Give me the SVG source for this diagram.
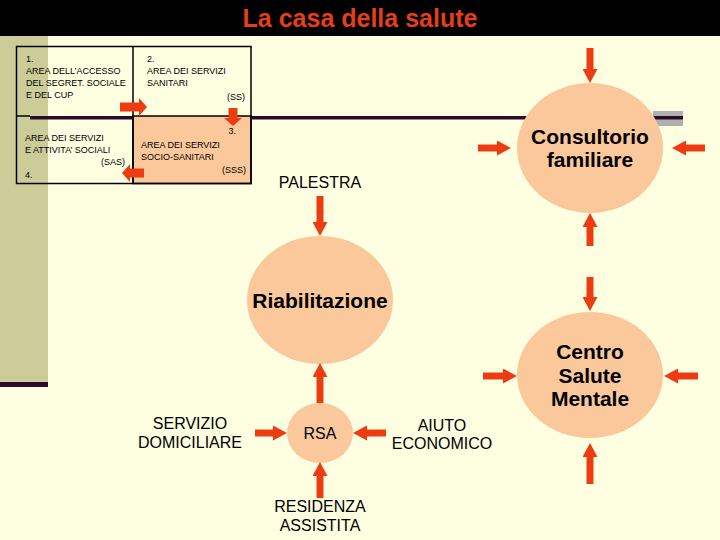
<svg xmlns="http://www.w3.org/2000/svg" width="720" height="540" viewBox="0 0 720 540">
<style>
.small{font-family:"Liberation Sans",Arial,sans-serif;font-size:9px;fill:#000}
.lbl{font-family:"Liberation Sans",Arial,sans-serif;font-size:16px;fill:#000;text-anchor:middle}
.bold{font-family:"Liberation Sans",Arial,sans-serif;font-size:21px;font-weight:bold;fill:#000;text-anchor:middle}
.circ{fill:#FBC89B}
.arr{stroke:#EE3C12;stroke-width:7;fill:none;marker-end:url(#ah)}
.tarr{stroke:#EE3C12;stroke-width:9;fill:none;marker-end:url(#tah)}
.cell{fill:none;stroke:#000;stroke-width:1.5}
</style>
<defs>
<marker id="ah" markerUnits="userSpaceOnUse" markerWidth="14" markerHeight="15" viewBox="0 0 14 15" refX="0" refY="7.5" orient="auto"><path d="M0,0 L14,7.5 L0,15 z" fill="#EE3C12"/></marker>
<marker id="tah" markerUnits="userSpaceOnUse" markerWidth="8" markerHeight="18" viewBox="0 0 8 18" refX="0" refY="9" orient="auto"><path d="M0,0 L8,9 L0,18 z" fill="#EE3C12"/></marker>
</defs>
<rect x="0" y="0" width="720" height="540" fill="#FEFEE1"/>
<rect x="0" y="0" width="720" height="36" fill="#000"/>
<text x="360" y="27" text-anchor="middle" style="font-family:'Liberation Sans',Arial,sans-serif;font-size:25px;font-weight:bold;fill:#E63E1A">La casa della salute</text>
<rect x="0" y="36" width="48" height="346" fill="#CCCC99"/>
<rect x="0" y="382" width="48" height="5" fill="#2B0A2E"/>
<rect x="653" y="111" width="30" height="15" fill="#B0B0B0"/>
<rect x="30" y="116" width="653" height="3.5" fill="#2B0A2E"/>

<g id="table">
<rect x="133" y="116" width="118" height="67.5" fill="#FBC89B" stroke="#000" stroke-width="1.5"/>
<rect class="cell" x="16.5" y="46.5" width="234.5" height="137"/>
<line x1="133" y1="46.5" x2="133" y2="183.5" stroke="#000" stroke-width="1.5"/>
<line x1="16.5" y1="116" x2="30" y2="116" stroke="#000" stroke-width="1.5"/>
<text class="small" x="26" y="62">1.</text>
<text class="small" x="26" y="74">AREA DELL’ACCESSO</text>
<text class="small" x="26" y="86">DEL SEGRET. SOCIALE</text>
<text class="small" x="26" y="98">E DEL CUP</text>
<text class="small" x="147" y="62">2.</text>
<text class="small" x="147" y="74">AREA DEI SERVIZI</text>
<text class="small" x="147" y="86">SANITARI</text>
<text class="small" x="245" y="100" text-anchor="end">(SS)</text>
<text class="small" x="25" y="141">AREA DEI SERVIZI</text>
<text class="small" x="25" y="153">E ATTIVITA’ SOCIALI</text>
<text class="small" x="125" y="165" text-anchor="end">(SAS)</text>
<text class="small" x="25" y="178">4.</text>
<text class="small" x="236" y="134" text-anchor="end">3.</text>
<text class="small" x="141" y="148">AREA DEI SERVIZI</text>
<text class="small" x="141" y="160">SOCIO-SANITARI</text>
<text class="small" x="246" y="173" text-anchor="end">(SSS)</text>
</g>

<g id="consultorio">
<ellipse class="circ" cx="590" cy="148" rx="73" ry="65"/>
<text class="bold" x="590" y="144">Consultorio</text>
<text class="bold" x="590" y="167">familiare</text>
</g>
<g id="palestra">
<text class="lbl" x="320" y="188">PALESTRA</text>
</g>
<g id="riabilitazione">
<ellipse class="circ" cx="320" cy="300" rx="73" ry="64"/>
<text class="bold" x="320" y="308">Riabilitazione</text>
</g>
<g id="centro">
<ellipse class="circ" cx="590" cy="375" rx="73" ry="63"/>
<text class="bold" x="590" y="359">Centro</text>
<text class="bold" x="590" y="383">Salute</text>
<text class="bold" x="590" y="406">Mentale</text>
</g>
<g id="rsa">
<ellipse class="circ" cx="320" cy="433" rx="33" ry="30"/>
<text class="lbl" x="320" y="439">RSA</text>
</g>
<g id="servizio">
<text class="lbl" x="190" y="429">SERVIZIO</text>
<text class="lbl" x="190" y="448">DOMICILIARE</text>
</g>
<g id="aiuto">
<text class="lbl" x="442" y="431">AIUTO</text>
<text class="lbl" x="442" y="449">ECONOMICO</text>
</g>
<g id="residenza">
<text class="lbl" x="320" y="512">RESIDENZA</text>
<text class="lbl" x="320" y="531">ASSISTITA</text>
</g>

<g id="connectors">
<line class="tarr" x1="120" y1="107" x2="139" y2="107"/>
<line class="tarr" x1="233" y1="108" x2="233" y2="118"/>
<line class="tarr" x1="144" y1="173" x2="130" y2="173"/>
<line class="arr" x1="590" y1="48" x2="590" y2="69"/>
<line class="arr" x1="478" y1="148" x2="497" y2="148"/>
<line class="arr" x1="705" y1="148" x2="686" y2="148"/>
<line class="arr" x1="590" y1="246" x2="590" y2="227"/>
<line class="arr" x1="590" y1="277" x2="590" y2="297"/>
<line class="arr" x1="483" y1="376" x2="503" y2="376"/>
<line class="arr" x1="698" y1="376" x2="678" y2="376"/>
<line class="arr" x1="590" y1="484" x2="590" y2="457"/>
<line class="arr" x1="320" y1="196" x2="320" y2="222"/>
<line class="arr" x1="320" y1="403" x2="320" y2="377"/>
<line class="arr" x1="255" y1="433" x2="273" y2="433"/>
<line class="arr" x1="386" y1="433" x2="367" y2="433"/>
<line class="arr" x1="320" y1="498" x2="320" y2="476"/>
</g>
</svg>
